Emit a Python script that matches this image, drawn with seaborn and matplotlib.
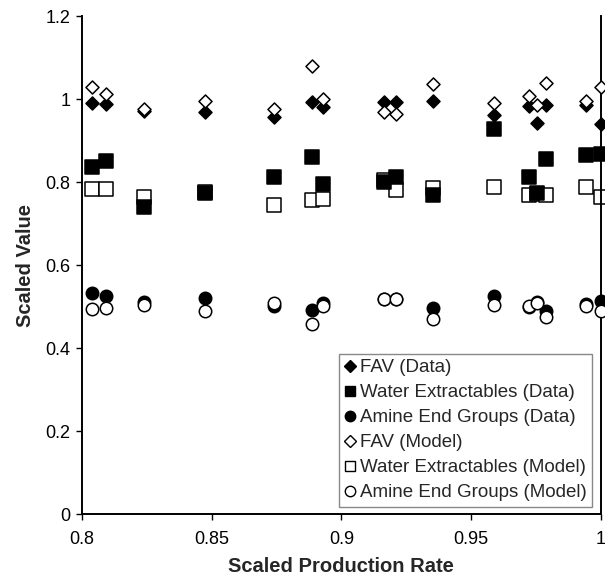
import matplotlib
matplotlib.use("Agg")
import matplotlib.pyplot as plt
import seaborn as sns
import pandas as pd
from matplotlib.lines import Line2D

sns.set_style("white")
plt.rcParams['font.family'] = ['Liberation Sans', 'DejaVu Sans']

x = [0.8038, 0.8093, 0.8239, 0.8476, 0.8741, 0.8887, 0.8929, 0.9163,
     0.9209, 0.9354, 0.9588, 0.9723, 0.9753, 0.9788, 0.9942, 1.0]

fav_data = [0.990, 0.987, 0.972, 0.968, 0.956, 0.992, 0.981, 0.993,
            0.993, 0.996, 0.961, 0.984, 0.942, 0.986, 0.986, 0.940]
fav_model = [1.028, 1.011, 0.976, 0.996, 0.975, 1.080, 0.999, 0.968,
             0.964, 1.036, 0.991, 1.007, 0.986, 1.039, 0.996, 1.028]
water_data = [0.837, 0.851, 0.740, 0.773, 0.813, 0.861, 0.795, 0.799,
              0.813, 0.769, 0.928, 0.813, 0.774, 0.856, 0.865, 0.867]
water_model = [0.782, 0.784, 0.765, 0.775, 0.745, 0.757, 0.758, 0.805,
               0.781, 0.786, 0.787, 0.769, 0.772, 0.769, 0.787, 0.763]
amine_data = [0.533, 0.526, 0.510, 0.520, 0.501, 0.492, 0.508, 0.518,
              0.518, 0.496, 0.525, 0.500, 0.510, 0.490, 0.505, 0.513]
amine_model = [0.494, 0.496, 0.504, 0.490, 0.509, 0.459, 0.502, 0.517,
               0.517, 0.469, 0.504, 0.501, 0.509, 0.474, 0.501, 0.490]

labels = ["FAV (Data)", "Water Extractables (Data)", "Amine End Groups (Data)",
          "FAV (Model)", "Water Extractables (Model)", "Amine End Groups (Model)"]
series = [fav_data, water_data, amine_data, fav_model, water_model, amine_model]
markers = ["D", "s", "o", "D", "s", "o"]
faces = ["black", "black", "black", "white", "white", "white"]
sizes = [44, 95, 80, 44, 95, 80]
zorders = [3, 4, 3, 5, 2.5, 5]

fig = plt.figure(figsize=(6.05, 5.82), dpi=100)
ax = fig.add_axes([0.1355, 0.1168, 0.8575, 0.8557])

for lab, vals, m, fc, s, z in zip(labels, series, markers, faces, sizes, zorders):
    df = pd.DataFrame({"x": x, "y": vals})
    sns.scatterplot(data=df, x="x", y="y", ax=ax, marker=m, s=s,
                    color=fc, edgecolor="black", linewidth=1.1,
                    zorder=z, clip_on=False, legend=False)

ax.set_xlim(0.8, 1.0)
ax.set_ylim(0, 1.2)
ax.set_xticks([0.8, 0.85, 0.9, 0.95, 1.0])
ax.set_xticklabels(["0.8", "0.85", "0.9", "0.95", "1"])
ax.set_yticks([0, 0.2, 0.4, 0.6, 0.8, 1.0, 1.2])
ax.set_yticklabels(["0", "0.2", "0.4", "0.6", "0.8", "1", "1.2"])
ax.tick_params(axis="both", labelsize=13, direction="out", width=1.0, colors="black")
ax.tick_params(axis="y", length=4.5, left=True, pad=4)
ax.tick_params(axis="x", length=4, bottom=True, pad=8)

for side in ["left", "bottom", "right"]:
    ax.spines[side].set_color("black")
    ax.spines[side].set_linewidth(1.4)
ax.spines["top"].set_visible(False)

ax.set_xlabel("Scaled Production Rate", fontsize=14.5, fontweight="bold", labelpad=7)
ax.set_ylabel("Scaled Value", fontsize=14.5, fontweight="bold", labelpad=7)

handles = [Line2D([], [], linestyle="none", marker=m, markerfacecolor=fc,
                  markeredgecolor="black", markeredgewidth=1.0,
                  markersize=(6 if m == "D" else 7.5))
           for m, fc in zip(markers, faces)]
leg = ax.legend(handles, labels, loc="lower right", bbox_to_anchor=(0.9835, 0.014),
                fontsize=13.5, frameon=True, fancybox=False, framealpha=1,
                edgecolor="#888888", handlelength=0.55, handletextpad=0.25,
                borderpad=0.3, labelspacing=0.42, borderaxespad=0)
leg.get_frame().set_linewidth(1.0)

fig.savefig("out.png", dpi=100)
